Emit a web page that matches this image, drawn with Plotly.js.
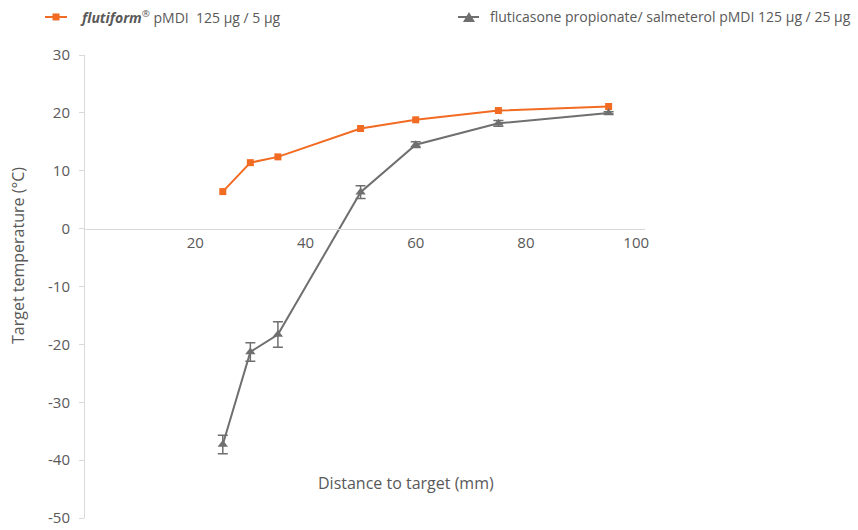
<!DOCTYPE html>
<html>
<head>
<meta charset="utf-8">
<script src="https://cdn.plot.ly/plotly-3.0.1.min.js"></script>
<style>html,body{margin:0;padding:0;background:#fff;}#chart{width:858px;height:530px;}</style>
</head>
<body>
<div id="chart"></div>
<script>
var distance = [25, 30, 35, 50, 60, 75, 95];
var flutiformTemp = [6.4, 11.4, 12.4, 17.3, 18.8, 20.4, 21.1];
var fpSalmTemp = [-37.3, -21.3, -18.3, 6.3, 14.5, 18.2, 20.0];
var fpSalmErr = [1.6, 1.6, 2.2, 1.1, 0.5, 0.5, 0.2];
var xTickVals = [20, 40, 60, 80, 100];
var yTickVals = [30, 20, 10, 0, -10, -20, -30, -40, -50];
var yTickText = ["30", "20", "10", "0", "-10", "-20", "-30", "-40", "-50"];

var orange = "#F26B22";
var grey = "#6F6F6F";
var textCol = "#595959";
var font = "Open Sans, Noto Sans, sans-serif";

var traces = [
  {
    x: distance, y: flutiformTemp, type: "scatter", mode: "lines+markers",
    name: "flutiform pMDI 125 µg / 5 µg",
    line: {color: orange, width: 2},
    marker: {symbol: "square", size: 7, color: orange},
    showlegend: false
  },
  {
    x: distance, y: fpSalmTemp, type: "scatter", mode: "lines+markers",
    name: "fluticasone propionate/ salmeterol pMDI 125 µg / 25 µg",
    line: {color: grey, width: 2},
    marker: {symbol: "triangle-up", size: 9, color: grey},
    error_y: {type: "data", array: fpSalmErr, visible: true, color: grey, thickness: 1.5, width: 5},
    showlegend: false
  }
];

var yMin = -50, yMax = 30;
var legY = 1.0821;
var layout = {
  width: 858, height: 530,
  margin: {l: 85, r: 213, t: 55, b: 12},
  paper_bgcolor: "#fff", plot_bgcolor: "#fff",
  font: {family: font, color: textCol, size: 14},
  showlegend: false,
  xaxis: {
    range: [0, 101.6],
    tickvals: xTickVals,
    ticktext: xTickVals.map(String),
    showgrid: false, zeroline: false,
    showline: true, linecolor: "#d9d9d9", linewidth: 1.5,
    ticks: "", anchor: "free", position: (0 - yMin) / (yMax - yMin),
    tickfont: {family: font, color: textCol, size: 15}
  },
  yaxis: {
    range: [yMin, yMax],
    tickvals: yTickVals, ticktext: yTickText,
    showgrid: false, zeroline: false,
    showline: true, linecolor: "#d9d9d9", linewidth: 1,
    ticks: "outside", ticklen: 5, tickcolor: "#d9d9d9",
    ticklabelstandoff: 6,
    tickfont: {family: font, color: textCol, size: 15}
  },
  annotations: [
    {xref: "x", yref: "y", x: 58.3, y: -43.9, text: "Distance to target (mm)", showarrow: false,
     font: {family: font, color: textCol, size: 16}},
    {xref: "paper", yref: "paper", x: -0.1196, y: 0.566, textangle: -90,
     xanchor: "center", yanchor: "middle",
     text: "Target temperature (°C)", showarrow: false,
     font: {family: font, color: textCol, size: 16}},
    {xref: "paper", yref: "paper", x: -0.0125, y: legY, xanchor: "left", yanchor: "middle",
     text: "<i><b>flutiform</b></i><sup>®</sup> pMDI  125 µg / 5 µg", showarrow: false,
     font: {family: font, color: textCol, size: 14}},
    {xref: "paper", yref: "paper", x: 0.7205, y: legY, xanchor: "left", yanchor: "middle",
     text: "fluticasone propionate/ salmeterol pMDI 125 µg / 25 µg", showarrow: false,
     font: {family: font, color: textCol, size: 14}}
  ],
  shapes: [
    {type: "line", xref: "paper", yref: "paper", x0: -0.0714, x1: -0.0321, y0: legY, y1: legY, line: {color: orange, width: 2}},
    {type: "rect", xref: "paper", yref: "paper", x0: -0.0580, x1: -0.0455, y0: 1.0746, y1: 1.0897, fillcolor: orange, line: {width: 0}},
    {type: "line", xref: "paper", yref: "paper", x0: 0.6661, x1: 0.7036, y0: legY, y1: legY, line: {color: grey, width: 2}},
    {type: "path", xref: "paper", yref: "paper", path: "M 0.6750 1.0713 L 0.6964 1.0713 L 0.6857 1.0929 Z", fillcolor: grey, line: {width: 0}}
  ]
};

Plotly.newPlot("chart", traces, layout, {staticPlot: true});
</script>
</body>
</html>
